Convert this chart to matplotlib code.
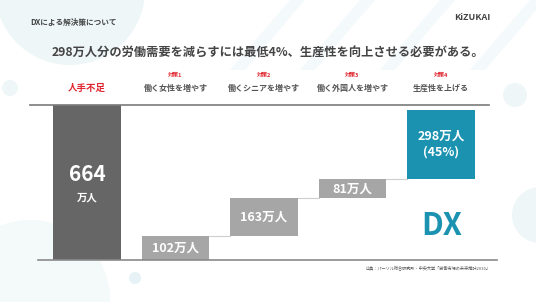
import matplotlib
matplotlib.use("Agg")
import matplotlib.pyplot as plt
from matplotlib.lines import Line2D
from matplotlib.patches import Circle, Polygon

plt.rcParams['font.family'] = ['Noto Sans CJK JP', 'DejaVu Sans']

# data
categories = ['人手不足', '働く女性を増やす', '働くシニアを増やす', '働く外国人を増やす', '生産性を上げる']
tags = ['', '対策1', '対策2', '対策3', '対策4']
values = [664, 102, 163, 81, 298]
labels = ['', '102万人', '163万人', '81万人', '298万人\n(45%)']

W, H = 536, 302
fig = plt.figure(figsize=(W / 100, H / 100), dpi=100)
fig.patch.set_facecolor('white')


def fx(px):
    return px / W


def fy(py):
    return 1 - py / H


# faint background shapes
bg = fig.add_axes([0, 0, 1, 1], zorder=-10)
bg.set_xlim(0, W)
bg.set_ylim(H, 0)
bg.axis('off')
soft = '#eef6f8'
bg.add_patch(Circle((70, -10), 75, color=soft, lw=0))
bg.add_patch(Circle((30, 300), 80, color='#f4f9fa', lw=0))
bg.add_patch(Circle((540, 215), 28, color=soft, lw=0))
bg.add_patch(Circle((515, 95), 12, color=soft, lw=0))
bg.add_patch(Circle((10, 88), 8, color=soft, lw=0))
bg.add_patch(Circle((135, 278), 6, color='#e6f2f5', lw=0))
for x0 in [230, 300, 380, 470]:
    bg.add_patch(Polygon([(x0, 70), (x0 + 60, 0), (x0 + 75, 0), (x0 + 15, 70)],
                         closed=True, color='#f4f9fb', lw=0))

# main chart
ax = fig.add_axes([fx(30), fy(260), fx(497) - fx(30), (260 - 105) / H])
ax.patch.set_alpha(0)
x = list(range(len(values)))
bottoms = [0]
run = 0
for v in values[1:]:
    bottoms.append(run)
    run += v
colors = ['#666666', '#a6a6a6', '#a6a6a6', '#a6a6a6', '#1b93b0']
bw = 0.76
ax.bar(x, values, bottom=bottoms, width=bw, color=colors, zorder=3)

# connectors
for i in range(1, len(values) - 1):
    top = bottoms[i] + values[i]
    ax.plot([x[i] + bw / 2, x[i + 1] - bw / 2], [top, top], color='#cfcfcf', lw=0.8, zorder=2)

ax.set_xlim((30 - 87) / 88.5, (497 - 87) / 88.5)
ax.set_ylim(0, 664)
ax.axis('off')

# values inside bars
ax.text(x[0], 664 * 0.55, '664', ha='center', va='center', color='white',
        fontsize=15, fontweight='bold')
ax.text(x[0], 664 * 0.4, '万人', ha='center', va='center', color='white',
        fontsize=7.5, fontweight='bold')
for i in range(1, len(values)):
    ax.text(x[i], bottoms[i] + values[i] / 2, labels[i], ha='center', va='center',
            color='white', fontsize=9, fontweight='bold', linespacing=1.3)

# header labels
fig.text(fx(87), fy(88), categories[0], ha='center', va='center', color='#e0262f',
         fontsize=6.8, fontweight='bold')
for i in range(1, len(values)):
    cx = 87 + 88.5 * i
    fig.text(fx(cx), fy(75), tags[i], ha='center', va='center', color='#e0262f',
             fontsize=4, fontweight='bold')
    fig.text(fx(cx), fy(88), categories[i], ha='center', va='center', color='#555555',
             fontsize=5.8, fontweight='bold')

# frame lines
fig.add_artist(Line2D([fx(30), fx(489)], [fy(105), fy(105)], color='#7a7a7a', lw=1.2))
fig.add_artist(Line2D([fx(38), fx(497)], [fy(260), fy(260)], color='#8a8a8a', lw=1.2))

# titles
fig.text(fx(30), fy(22), 'DXによる解決策について', ha='left', va='center', color='#444444',
         fontsize=5.5, fontweight='bold')
fig.text(fx(490), fy(18), 'KiZUKAI', ha='right', va='center', color='#444444',
         fontsize=6.5, fontweight='bold')
fig.text(fx(268), fy(53), '298万人分の労働需要を減らすには最低4%、生産性を向上させる必要がある。',
         ha='center', va='center', color='#444444', fontsize=8.8, fontweight='bold')

fig.text(fx(442), fy(226), 'DX', ha='center', va='center', color='#1b93b0',
         fontsize=22, fontweight='bold')
fig.text(fx(490), fy(269), '出典：パーソル総合研究所・中央大学「労働市場の未来推計2030」',
         ha='right', va='center', color='#555555', fontsize=3)

fig.savefig('out.png', dpi=100)
